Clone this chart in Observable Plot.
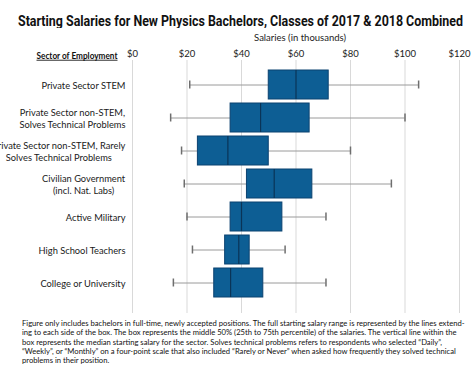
<!DOCTYPE html>
<html>
<head>
<meta charset="utf-8">
<script src="https://cdn.jsdelivr.net/npm/d3@7"></script>
<script src="https://cdn.jsdelivr.net/npm/@observablehq/plot@0.6"></script>
<style>
  html, body { margin: 0; padding: 0; background: #fff; }
  body { width: 474px; height: 374px; overflow: hidden; position: relative; }
  #title { position: absolute; left: 0; top: 0; }
  #chart { position: absolute; left: 0; top: 28px; }
  #note { position: absolute; left: 22px; top: 319px; width: 450px;
    font-family: Lato, "Open Sans", sans-serif; font-size: 7.65px; line-height: 9.3px; color: #111; white-space: nowrap; }
</style>
</head>
<body>
<svg id="title" width="474" height="30"><text x="18" y="25.5" textLength="445" lengthAdjust="spacingAndGlyphs"
  style="font-family: Roboto, 'Liberation Sans', sans-serif; font-weight: bold; font-size: 15.5px; fill: #111;">Starting Salaries for New Physics Bachelors, Classes of 2017 &amp; 2018 Combined</text></svg>
<div id="chart"></div>
<div id="note">Figure only includes bachelors in full-time, newly accepted positions. The full starting salary range is represented by the lines extend-<br>ing to each side of the box. The box represents the middle 50% (25th to 75th percentile) of the salaries. The vertical line within the<br>box represents the median starting salary for the sector. Solves technical problems refers to respondents who selected “Daily”,<br>“Weekly”, or “Monthly” on a four-point scale that also included “Rarely or Never” when asked how frequently they solved technical<br>problems in their position.</div>
<script>
const sectors = [
  "Private Sector STEM",
  "Private Sector non-STEM,\nSolves Technical Problems",
  "Private Sector non-STEM, Rarely\nSolves Technical Problems",
  "Civilian Government\n(incl. Nat. Labs)",
  "Active Military",
  "High School Teachers",
  "College or University"
];
const minSalary    = [21, 14, 18, 19, 20, 22, 15];
const q1Salary     = [50, 36, 24, 42, 36, 34, 30];
const medianSalary = [60, 47, 35, 52, 40, 39, 36];
const q3Salary     = [72, 65, 50, 66, 55, 43, 48];
const maxSalary    = [105, 100, 80, 95, 71, 56, 71];
const xTicks = [0, 20, 40, 60, 80, 100, 120];

const data = sectors.map((s, i) => ({
  sector: s, min: minSalary[i], q1: q1Salary[i], median: medianSalary[i], q3: q3Salary[i], max: maxSalary[i]
}));

const labelFont = 'Lato, "Open Sans", sans-serif';

const plot = Plot.plot({
  width: 474,
  height: 290,
  marginLeft: 132,
  marginRight: 15,
  marginTop: 32,
  marginBottom: 5,
  style: { fontFamily: labelFont, fontSize: "9.5px", color: "#222", background: "#fff" },
  x: {
    domain: [0, 120],
    ticks: xTicks,
    tickFormat: d => "$" + d,
    axis: "top",
    tickSize: 0,
    tickPadding: 4,
    label: null
  },
  y: {
    domain: sectors,
    paddingInner: 0.11,
    paddingOuter: 0.31,
    align: 0.38,
    axis: null
  },
  marks: [
    Plot.ruleX(xTicks, { x: d => d, stroke: "#d9d9d9", strokeWidth: 1 }),
    Plot.ruleY(data, { y: "sector", x1: "min", x2: "q1", stroke: "#9a9a9a", strokeWidth: 1 }),
    Plot.ruleY(data, { y: "sector", x1: "q3", x2: "max", stroke: "#9a9a9a", strokeWidth: 1 }),
    Plot.tickX(data, { y: "sector", x: "min", stroke: "#6e6e6e", strokeWidth: 1.5, insetTop: 10.5, insetBottom: 10.5 }),
    Plot.tickX(data, { y: "sector", x: "max", stroke: "#6e6e6e", strokeWidth: 1.5, insetTop: 10.5, insetBottom: 10.5 }),
    Plot.barX(data, { y: "sector", x1: "q1", x2: "q3", fill: "#0d5e94", stroke: "#0b4270", strokeWidth: 1 }),
    Plot.tickX(data, { y: "sector", x: "median", stroke: "#0a3457", strokeWidth: 1.2 }),
    Plot.text(data, { y: "sector", text: "sector", frameAnchor: "left", textAnchor: "end", dx: -7,
      lineHeight: 1.3, fontSize: 9.3, fill: "#1a1a1a", className: "ylab" }),
    Plot.text(["Salaries (in thousands)"], { frameAnchor: "top", dx: 4, dy: -26, text: d => d, fontSize: 9.5, fill: "#222" }),
    Plot.text(["Sector of Employment"], { frameAnchor: "top-left", dx: -15, dy: -8, textAnchor: "end",
      fontWeight: "bold", fontSize: 8.8, fill: "#111", text: d => d, className: "sectorhead" })
  ]
});

document.getElementById("chart").appendChild(plot);

const svg = d3.select(plot);
svg.selectAll(".sectorhead text")
  .attr("text-decoration", "underline")
  .attr("textLength", 81)
  .attr("lengthAdjust", "spacingAndGlyphs");
// Center multi-line y labels, right edge of the widest line at the axis
svg.selectAll(".ylab text").each(function() {
  const tspans = d3.select(this).selectAll("tspan");
  if (tspans.size() > 1) {
    const w = this.getBBox().width;
    const x0 = +(d3.select(this).attr("x") || 0);
    d3.select(this).attr("text-anchor", "middle");
    tspans.attr("x", x0 - w / 2);
  }
});
</script>
</body>
</html>
